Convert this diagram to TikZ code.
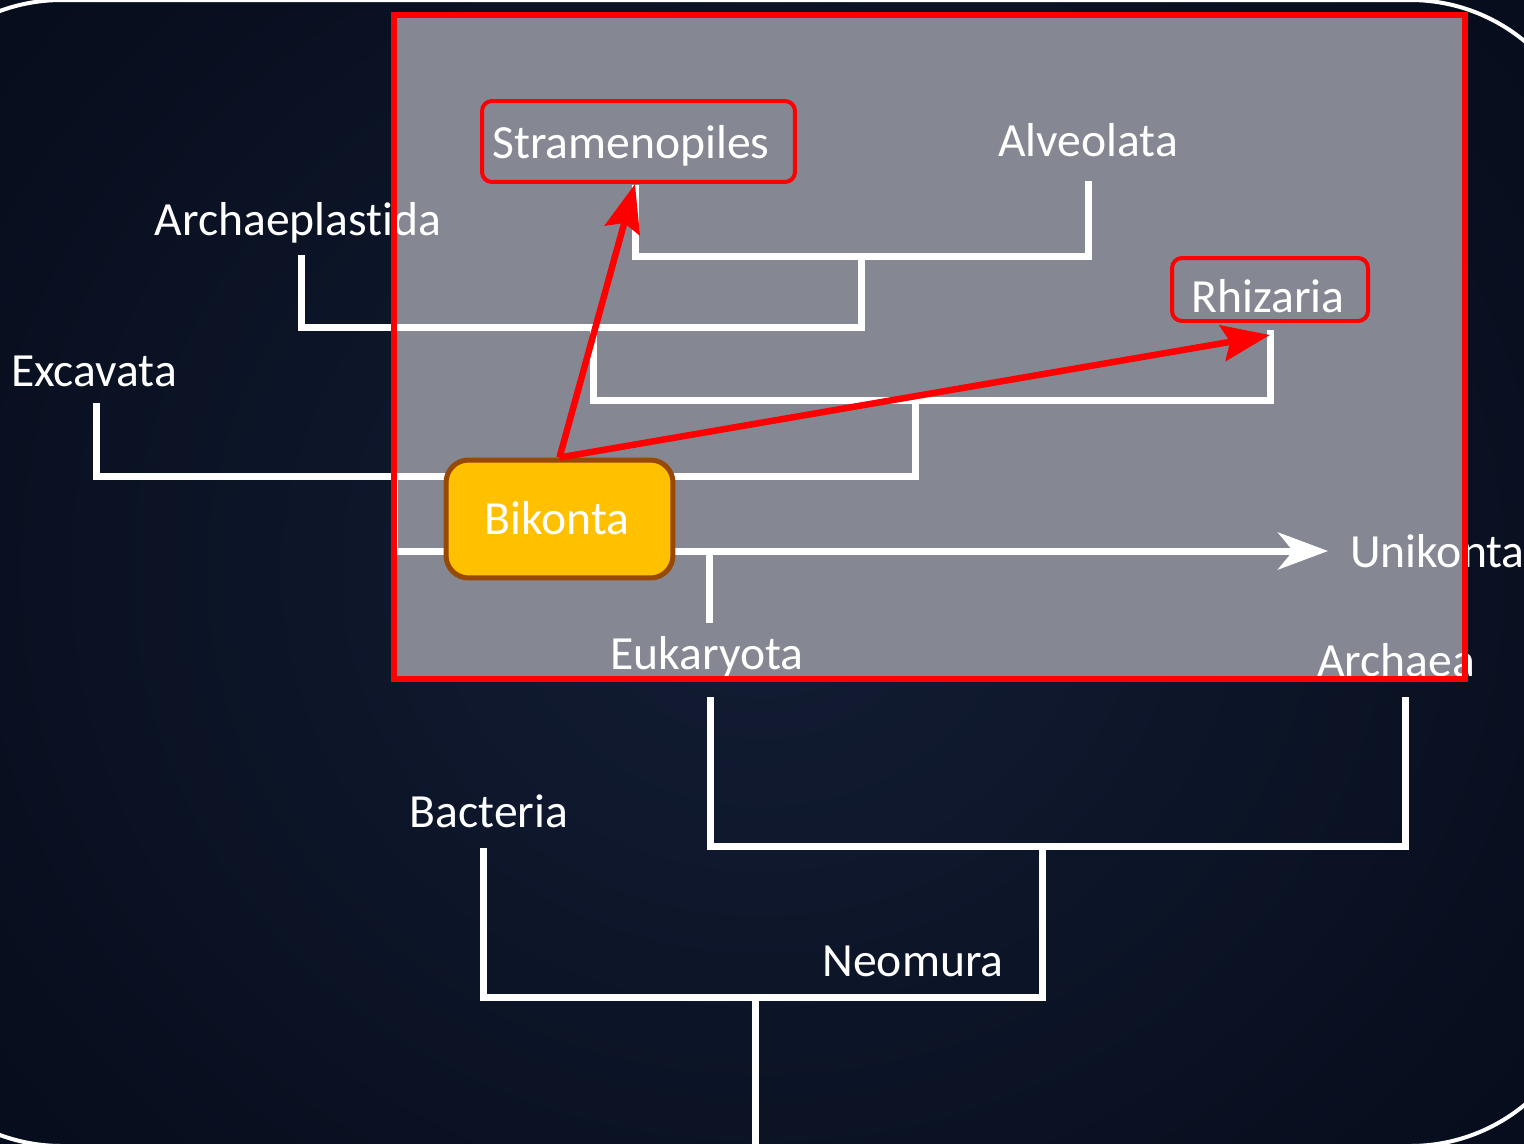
\documentclass[tikz,border=0pt]{standalone}
\usepackage{fontspec}
\setmainfont{Carlito}[Ligatures={NoCommon}]
\usetikzlibrary{arrows.meta,calc}
\definecolor{bgin}{HTML}{131D34}
\definecolor{bgout}{HTML}{060D1C}
\definecolor{panel}{HTML}{858893}
\definecolor{bikfill}{HTML}{FFC000}
\definecolor{bikdraw}{HTML}{984807}
\begin{document}
\begin{tikzpicture}[x=0.02cm,y=-0.02cm,
  tree/.style={draw=white, line width=0.14cm, line join=miter},
  lbl/.style={text=white, inner sep=0pt, anchor=base, font=\fontsize{27.1pt}{32pt}\selectfont},
  redbox/.style={draw=red, line width=0.08cm, rounded corners=0.2cm, inner sep=0pt},
  redarrow/.style={draw=red, line width=0.13cm, -{Stealth[length=0.96cm,width=0.72cm,inset=0.15cm]}},
  bikstyle/.style={draw=bikdraw, fill=bikfill, line width=0.1cm, rounded corners=0.45cm, inner sep=0pt},
]
\useasboundingbox (0,0) rectangle (1524,1143);
\clip (0,0) rectangle (1524,1143);
% background
\shade[inner color=bgin, outer color=bgout] (-200,-300) rectangle (1724,1443);
\draw[white, line width=0.08cm, rounded corners=3.6cm] (-118,0) rectangle (1590,1146);
% highlighted panel
\fill[panel] (394,15) rectangle (1465,679);

% tree coordinates
\coordinate (s1) at (635,185);
\coordinate (s2) at (635,256);
\coordinate (a2) at (1088,256);
\coordinate (a1) at (1088,181);
\coordinate (j1) at (861,256);
\coordinate (j1b) at (861,327);
\coordinate (ar2) at (301,327);
\coordinate (ar1) at (301,255);
\coordinate (p1) at (593,327);
\coordinate (p2) at (593,400);
\coordinate (r2) at (1270,400);
\coordinate (r1) at (1270,330);
\coordinate (q1) at (915,400);
\coordinate (q2) at (915,476);
\coordinate (e2) at (96,476);
\coordinate (e1) at (96,403);
\coordinate (b1) at (394,476);
\coordinate (b2) at (394,551);
\coordinate (utip) at (1328,551);
\coordinate (k1) at (709,551);
\coordinate (k2) at (709,623);
\coordinate (n1) at (710,697);
\coordinate (n2) at (710,846);
\coordinate (n3) at (1405,846);
\coordinate (n4) at (1405,697);
\coordinate (m1) at (1042,846);
\coordinate (m2) at (1042,997);
\coordinate (m3) at (483,997);
\coordinate (m4) at (483,848);
\coordinate (root1) at (755,997);
\coordinate (root2) at (755,1150);

% tree
\draw[tree] (s1) -- (s2) -- (a2) -- (a1);
\draw[tree] (ar1) -- (ar2) -- (j1b) -- (j1);
\draw[tree] (p1) -- (p2) -- (r2) -- (r1);
\draw[tree] (e1) -- (e2) -- (q2) -- (q1);
\draw[tree, -{Stealth[length=1cm,width=0.74cm,inset=0.3cm]}] (b1) -- (b2) -- (utip);
\draw[tree] (k1) -- (k2);
\draw[tree] (n1) -- (n2) -- (n3) -- (n4);
\draw[tree] (m1) -- (m2) -- (m3) -- (m4);
\draw[tree] (root1) -- (root2);

% labels
\node[lbl] (stram) at (631,158) {Stramenopiles};
\node[lbl] (alv) at (1088,156) {Alveolata};
\node[lbl] (archp) at (298,235) {Archaeplastida};
\node[lbl] (rhiz) at (1268,312) {Rhizaria};
\node[lbl] (exc) at (94,386) {Excavata};
\node[lbl, anchor=base west] (uni) at (1350,567) {Unikonta};
\node[lbl] (euk) at (707,669) {Eukaryota};
\node[lbl] (archa) at (1396,676) {Archaea};
\node[lbl] (bact) at (489,827) {Bacteria};
\node[lbl] (neo) at (913,976) {Neomura};

% red frame and boxes
\draw[red, line width=0.11cm] (394,15) rectangle (1465,679);
\node[redbox, minimum width=6.26cm, minimum height=1.62cm] (strambox) at (638.5,141.5) {};
\node[redbox, minimum width=3.92cm, minimum height=1.26cm] (rhizbox) at (1270,289.5) {};

% Bikonta
\node[bikstyle, minimum width=4.54cm, minimum height=2.36cm] (bikbox) at (559.5,519) {};
\node[lbl] (bik) at (557,534) {Bikonta};

% red arrows
\draw[redarrow] (bikbox.north) -- (strambox.south -| s1);
\draw[redarrow] (bikbox.north) -- ($(rhizbox.south)+(0,12)$);
\end{tikzpicture}
\end{document}
